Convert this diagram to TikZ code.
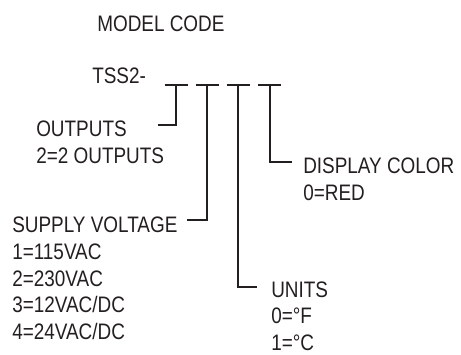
\documentclass[tikz,border=0pt]{standalone}
\usepackage{fontspec}
\setmainfont{Liberation Sans}[FakeStretch=0.845]
\usepackage{xcolor}
\usepackage{tikz}
\usetikzlibrary{positioning}

\definecolor{inkdark}{HTML}{231F20}

\begin{document}
\begin{tikzpicture}[
        x=0.75pt, y=-0.75pt,
        every node/.style={text=inkdark},
        codetext/.style={
            anchor=base west, inner sep=0pt,
            font=\fontsize{16.8}{20}\selectfont
        },
        field/.style={codetext, align=left},
        slot/.style={draw=inkdark, line width=1.5pt},
        leader/.style={draw=inkdark, line width=1.5pt}
    ]
        \useasboundingbox (0,0) rectangle (461,354);

        \node[codetext] (title) at (97, 31.5) {MODEL CODE};
        \node[codetext] (prefix) at (92, 83) {TSS2-};

        \coordinate (s1) at (176, 84.5);
        \coordinate (s2) at (207, 84.5);
        \coordinate (s3) at (238, 84.5);
        \coordinate (s4) at (269.5, 84.5);

        % placed by the baseline of the last line
        \node[field] (outputs) at (36, 163) {OUTPUTS\\2=2 OUTPUTS};
        \node[field] (supply) at (12, 339.5)
            {SUPPLY VOLTAGE\\1=115VAC\\2=230VAC\\3=12VAC/DC\\4=24VAC/DC};
        \node[field] (display) at (303, 200) {DISPLAY COLOR\\0=RED};
        \node[field] (units) at (271, 350.5) {UNITS\\0=°F\\1=°C};

        \coordinate (outputsend) at (158, 125);
        \coordinate (supplyend) at (187, 220);
        \coordinate (unitsend) at (257, 286.5);
        \coordinate (displayend) at (292, 162);

        \foreach \s in {s1, s2, s3, s4}
            \draw[slot] (\s) ++(-11.5, 0) -- ++(23, 0);

        \draw[leader] (s1) |- (outputsend);
        \draw[leader] (s2) |- (supplyend);
        \draw[leader] (s3) |- (unitsend);
        \draw[leader] (s4) |- (displayend);
    \end{tikzpicture}
\end{document}
